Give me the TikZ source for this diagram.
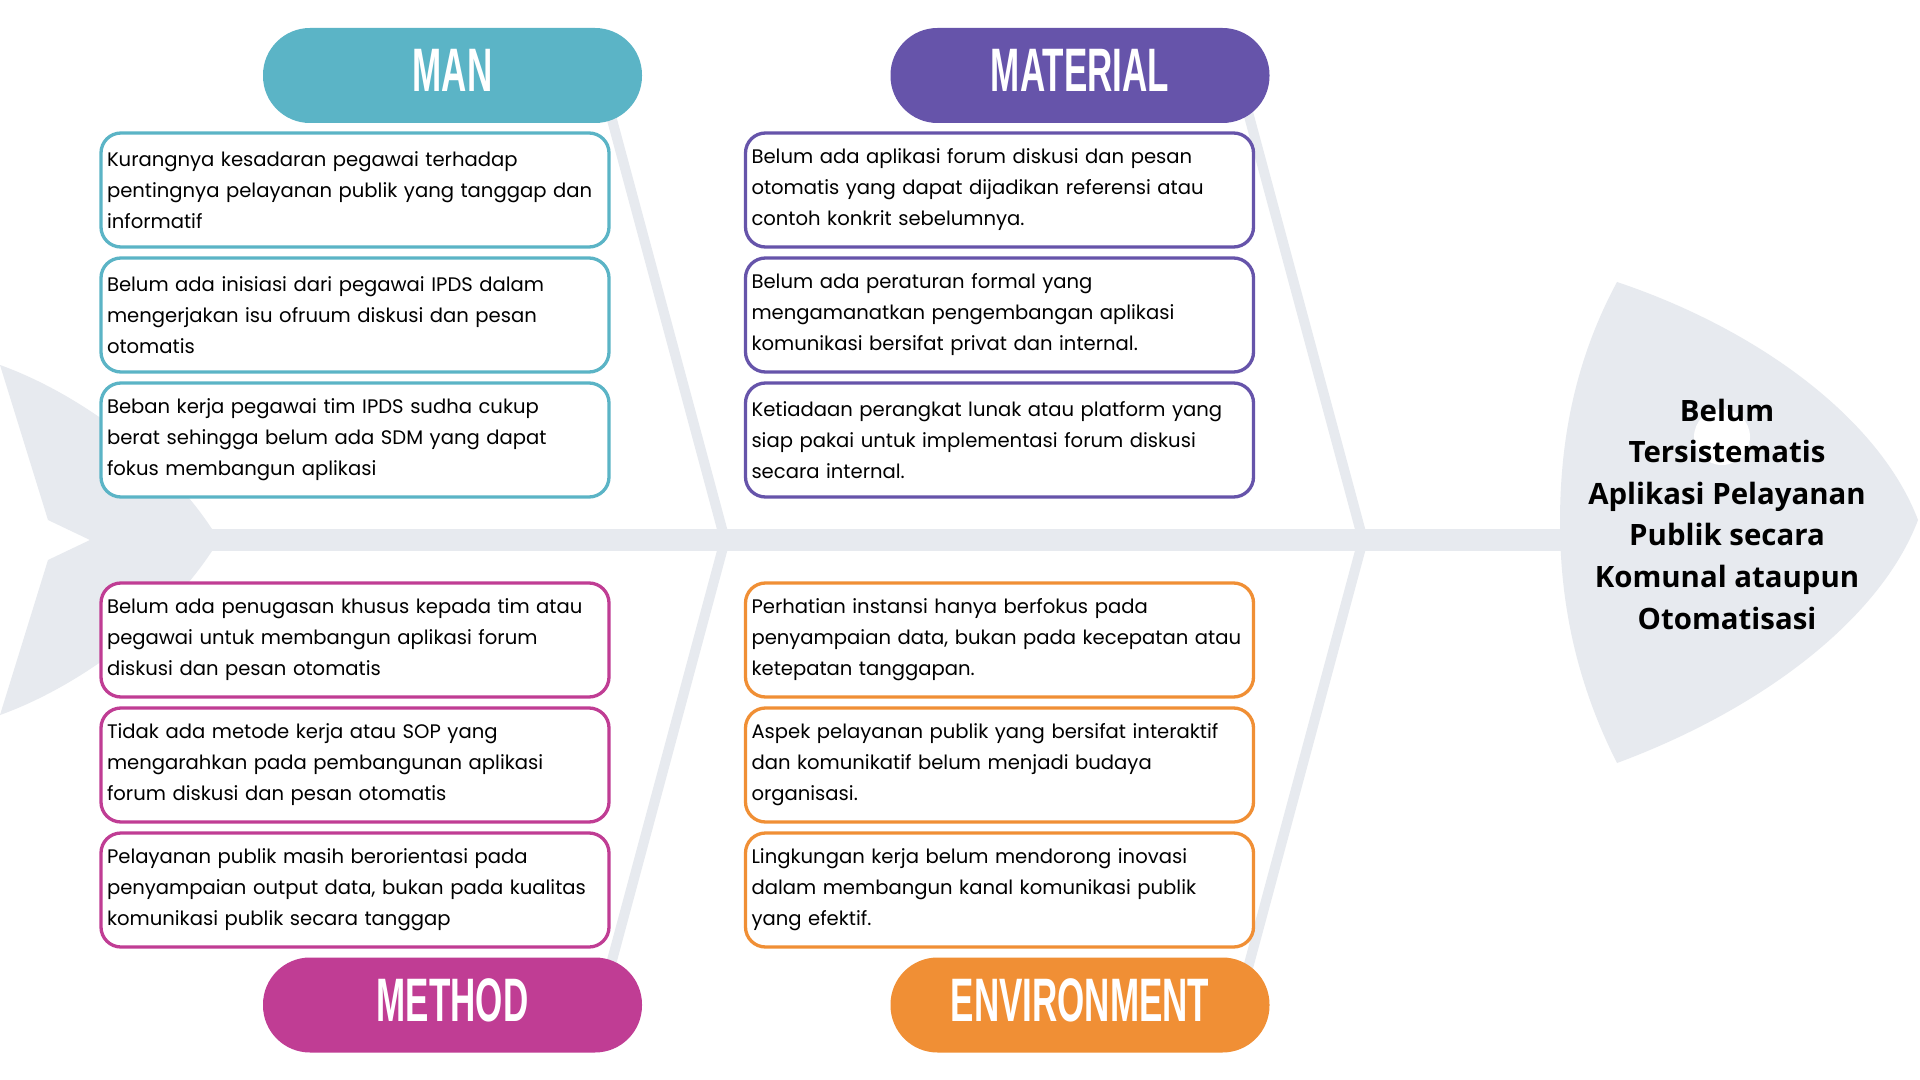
\documentclass[tikz,border=0pt]{standalone}
\usepackage{graphicx}
\usepackage{fontspec}
\setmainfont{Poppins}
\newfontfamily\headfont{Open Sans}
\newfontfamily\pillfont{Liberation Sans}

\definecolor{bonegray}{HTML}{E7EAEF}
\definecolor{manc}{HTML}{5BB4C6}
\definecolor{matc}{HTML}{6654AA}
\definecolor{metc}{HTML}{C03D94}
\definecolor{envc}{HTML}{F08F35}

\newcommand{\pilltext}[1]{\raisebox{5pt}{\scalebox{0.57}[1]{#1}}}

\tikzset{
  pill/.style={rounded corners=23.5pt, minimum width=189.5pt, minimum height=47.5pt,
    inner sep=0pt, text=white, font=\pillfont\bfseries\fontsize{30.7pt}{30pt}\selectfont},
  cause/.style={draw, line width=1.65pt, rounded corners=10pt, fill=white,
    minimum width=254pt, minimum height=57pt, text width=248pt, inner xsep=3pt,
    inner ysep=0pt, align=left, font=\fontsize{9.8pt}{15.5pt}\selectfont},
  bone/.style={draw=bonegray, line width=5pt},
}

\begin{document}
\begin{tikzpicture}[x=0.5pt, y=-0.5pt]
  \fill[white] (0,0) rectangle (1920,1080);
  \useasboundingbox (0,0) rectangle (1920,1080);

  % tail
  \fill[bonegray] (0,365) .. controls (70,390) and (160,450) .. (212,529)
    -- (212,551) .. controls (160,630) and (70,690) .. (0,715)
    -- (48,560) -- (90,540) -- (48,520) -- cycle;
  % spine
  \fill[bonegray] (200,529) rectangle (1580,551);
  % head
  \fill[bonegray] (1617,282) .. controls (1760,330) and (1880,420) .. (1918,520)
    .. controls (1880,620) and (1760,710) .. (1617,763)
    .. controls (1575,680) and (1560,600) .. (1560,522)
    .. controls (1560,440) and (1575,360) .. (1617,282) -- cycle;
  \fill[white] (1722,437) circle (14pt);

  % joints of the ribs on the spine
  \coordinate (jl) at (725,540);
  \coordinate (jr) at (1363,540);
  \coordinate (tl) at (600,75);
  \coordinate (bl) at (600,1005);
  \coordinate (tr) at (1238,75);
  \coordinate (br) at (1238,1005);
  \draw[bone] (tl) -- (jl) -- (bl);
  \draw[bone] (tr) -- (jr) -- (br);

  % category headers
  \node[pill, fill=manc] (man) at (452.5,75.5) {\pilltext{MAN}};
  \node[pill, fill=matc] (material) at (1080,75.5) {\pilltext{MATERIAL}};
  \node[pill, fill=metc] (method) at (452.5,1005) {\pilltext{METHOD}};
  \node[pill, fill=envc] (environment) at (1080,1005) {\pilltext{ENVIRONMENT}};

  % causes: man
  \node[cause, draw=manc] (man1) at (355,190) {Kurangnya kesadaran pegawai terhadap\\pentingnya pelayanan publik yang tanggap dan\\informatif};
  \node[cause, draw=manc] (man2) at (355,315) {Belum ada inisiasi dari pegawai IPDS dalam\\mengerjakan isu ofruum diskusi dan pesan\\otomatis};
  \node[cause, draw=manc] (man3) at (355,440) {Beban kerja pegawai tim IPDS sudha cukup\\berat sehingga belum ada SDM yang dapat\\fokus membangun aplikasi};

  % causes: material
  \node[cause, draw=matc] (mat1) at (999.5,190) {Belum ada aplikasi forum diskusi dan pesan\\otomatis yang dapat dijadikan referensi atau\\contoh konkrit sebelumnya.};
  \node[cause, draw=matc] (mat2) at (999.5,315) {Belum ada peraturan formal yang\\mengamanatkan pengembangan aplikasi\\komunikasi bersifat privat dan internal.};
  \node[cause, draw=matc] (mat3) at (999.5,440) {Ketiadaan perangkat lunak atau platform yang\\siap pakai untuk implementasi forum diskusi\\secara internal.};

  % causes: method
  \node[cause, draw=metc] (met1) at (355,640) {Belum ada penugasan khusus kepada tim atau\\pegawai untuk membangun aplikasi forum\\diskusi dan pesan otomatis};
  \node[cause, draw=metc] (met2) at (355,765) {Tidak ada metode kerja atau SOP yang\\mengarahkan pada pembangunan aplikasi\\forum diskusi dan pesan otomatis};
  \node[cause, draw=metc] (met3) at (355,890) {Pelayanan publik masih berorientasi pada\\penyampaian output data, bukan pada kualitas\\komunikasi publik secara tanggap};

  % causes: environment
  \node[cause, draw=envc] (env1) at (999.5,640) {Perhatian instansi hanya berfokus pada\\penyampaian data, bukan pada kecepatan atau\\ketepatan tanggapan.};
  \node[cause, draw=envc] (env2) at (999.5,765) {Aspek pelayanan publik yang bersifat interaktif\\dan komunikatif belum menjadi budaya\\organisasi.};
  \node[cause, draw=envc] (env3) at (999.5,890) {Lingkungan kerja belum mendorong inovasi\\dalam membangun kanal komunikasi publik\\yang efektif.};

  % effect in the head
  \node[font=\headfont\bfseries\fontsize{14.7pt}{20.8pt}\selectfont, align=center,
    inner sep=0pt] (effect) at (1727,514)
    {Belum\\Tersistematis\\Aplikasi Pelayanan\\Publik secara\\Komunal ataupun\\Otomatisasi};
\end{tikzpicture}
\end{document}
